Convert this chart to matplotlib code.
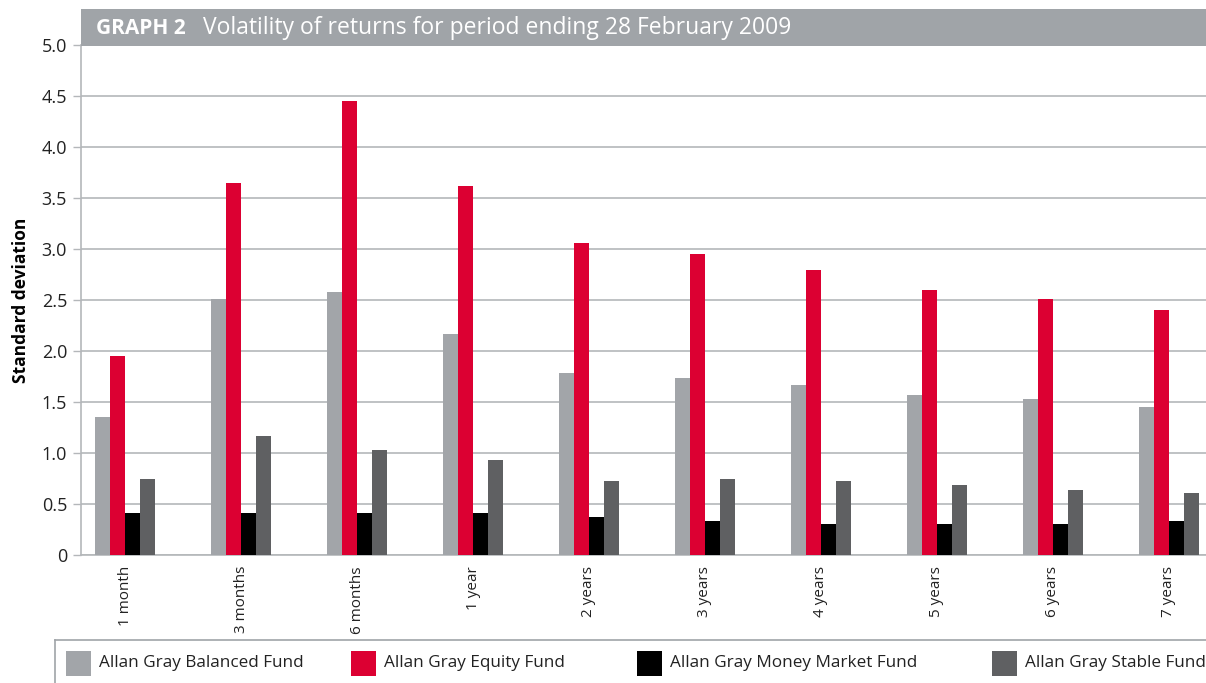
import matplotlib
matplotlib.use("Agg")
import matplotlib.pyplot as plt
from matplotlib.patches import Rectangle
import numpy as np

categories = ["1 month", "3 months", "6 months", "1 year", "2 years",
              "3 years", "4 years", "5 years", "6 years", "7 years"]
balanced = [1.35, 2.51, 2.58, 2.17, 1.78, 1.74, 1.67, 1.57, 1.53, 1.45]
equity = [1.95, 3.65, 4.45, 3.62, 3.06, 2.95, 2.79, 2.60, 2.51, 2.40]
money_market = [0.41, 0.41, 0.41, 0.41, 0.37, 0.33, 0.30, 0.30, 0.30, 0.33]
stable = [0.75, 1.17, 1.03, 0.93, 0.73, 0.75, 0.73, 0.69, 0.64, 0.61]
series_names = ["Allan Gray Balanced Fund", "Allan Gray Equity Fund",
                "Allan Gray Money Market Fund", "Allan Gray Stable Fund"]
yticks = [0, 0.5, 1.0, 1.5, 2.0, 2.5, 3.0, 3.5, 4.0, 4.5, 5.0]
ytick_labels = ["0", "0.5", "1.0", "1.5", "2.0", "2.5", "3.0", "3.5", "4.0", "4.5", "5.0"]

colors = ["#a2a5a9", "#dc0032", "#000000", "#5f6062"]
grid_color = "#b4b7ba"

plt.rcParams['font.family'] = ['Open Sans', 'DejaVu Sans']

W, H = 1206, 683
fig = plt.figure(figsize=(W / 100, H / 100), dpi=100)

# axes placement in pixels
ax_left, ax_right, ax_top, ax_bottom = 81, 1206, 45, 555
ax = fig.add_axes([ax_left / W, 1 - ax_bottom / H, (ax_right - ax_left) / W, (ax_bottom - ax_top) / H])

x = np.arange(len(categories))
bw = 0.13
data = [balanced, equity, money_market, stable]
offsets = [-1.5, -0.5, 0.5, 1.5]
for vals, off, c in zip(data, offsets, colors):
    ax.bar(x + off * bw, vals, width=bw, color=c, zorder=3, linewidth=0)

ax.set_ylim(0, 5.0)
ax.set_xlim(-0.38, 9.32)
ax.set_yticks(yticks)
ax.set_yticklabels(ytick_labels, fontsize=13, color="#222222")
ax.set_xticks(x)
ax.set_xticklabels(categories, rotation=90, fontsize=11, color="#222222")
ax.tick_params(axis="x", length=0, pad=8)
ax.tick_params(axis="y", length=6, width=1, color=grid_color, pad=4)
ax.yaxis.grid(True, color=grid_color, linewidth=1.2, zorder=0)
ax.set_axisbelow(True)
for s in ["top", "right"]:
    ax.spines[s].set_visible(False)
ax.spines["left"].set_color(grid_color)
ax.spines["left"].set_linewidth(1.2)
ax.spines["bottom"].set_color(grid_color)
ax.spines["bottom"].set_linewidth(1.2)
ax.set_ylabel("Standard deviation", fontsize=12.5, fontweight="bold", labelpad=8)

# title bar (drawn over the top of the plot area)
fig.add_artist(Rectangle((81 / W, 1 - 46 / H), (W - 81) / W, 37 / H,
                         transform=fig.transFigure, facecolor="#a0a4a8",
                         edgecolor="none", zorder=5))
fig.text(96 / W, 1 - 28 / H, "GRAPH 2", color="white", fontsize=15,
         fontweight="bold", va="center", ha="left", zorder=6)
fig.text(203 / W, 1 - 28 / H, "Volatility of returns for period ending 28 February 2009",
         color="white", fontsize=16.5, va="center", ha="left", zorder=6)

# legend box lines
fig.add_artist(plt.Line2D([55 / W, 1], [1 - 640 / H, 1 - 640 / H],
                          transform=fig.transFigure, color="#a0a4a8", linewidth=1.2))
fig.add_artist(plt.Line2D([55 / W, 55 / W], [1 - 640 / H, 0],
                          transform=fig.transFigure, color="#a0a4a8", linewidth=1.2))

legend_x = [66, 351, 637, 992]
for lx, name, c in zip(legend_x, series_names, colors):
    fig.add_artist(Rectangle((lx / W, 1 - 676 / H), 25 / W, 25 / H,
                             transform=fig.transFigure, facecolor=c,
                             edgecolor="none"))
    fig.text((lx + 33) / W, 1 - 663 / H, name, fontsize=12.3, color="#222222",
             va="center", ha="left")

fig.savefig("out.png", dpi=100)
